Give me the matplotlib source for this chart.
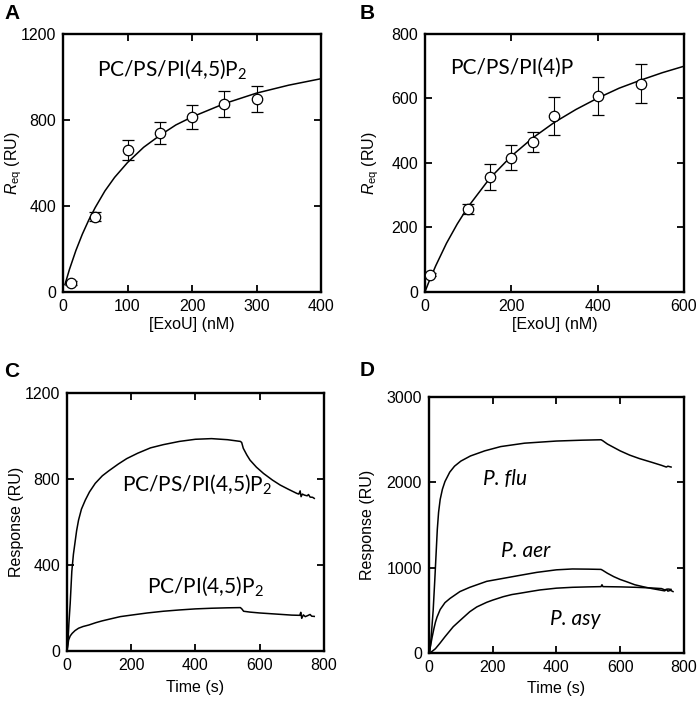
"""
plot.py - ExoU binding to lipid membranes (SPR).

A/B: equilibrium response vs ExoU concentration with hyperbolic fit.
C/D: raw sensorgrams for different lipid mixes / ExoU homologues.

Values read off the published figure by eye.
"""

import matplotlib
matplotlib.use('Agg')

import matplotlib.pyplot as plt

plt.rcParams['font.family'] = ['Liberation Sans', 'DejaVu Sans']
plt.rcParams['mathtext.fontset'] = 'custom'
plt.rcParams['mathtext.rm'] = 'Liberation Sans'
plt.rcParams['mathtext.it'] = 'Liberation Sans:italic'

NOTE_FONT = ['Lato', 'DejaVu Sans']

# ================================================================
# Panel A : PC/PS/PI(4,5)P2
# ================================================================
a_conc = [12, 50, 100, 150, 200, 250, 300]
a_req = [42, 350, 659, 740, 814, 873, 898]
a_err = [8, 22, 46, 50, 57, 61, 62]

a_fit_x = [3, 10, 20, 30, 40, 50, 65, 80, 100, 125, 150, 175, 200,
           250, 300, 350, 400]
a_fit_y = [34, 105, 193, 269, 335, 393, 470, 533, 602, 673, 728, 777,
           814, 876, 925, 962, 992]

# ================================================================
# Panel B : PC/PS/PI(4)P
# ================================================================
b_conc = [12, 100, 150, 200, 250, 300, 400, 500]
b_req = [54, 258, 357, 417, 465, 545, 608, 646]
b_err = [5, 16, 40, 40, 31, 59, 59, 60]

b_fit_x = [0, 10, 25, 50, 75, 100, 150, 200, 250, 300, 350, 400, 450,
           500, 550, 600]
b_fit_y = [0, 34, 81, 151, 211, 264, 352, 421, 478, 526, 566, 601, 632,
           657, 680, 700]

# ================================================================
# Panel C : sensorgrams, two lipid mixes
# ================================================================
c_pips_t = [0, 3, 6, 10, 15, 20, 25, 30, 36, 45, 57, 70, 88, 110, 130,
            160, 186, 220, 260, 300, 350, 400, 450, 500, 540, 544, 549,
            560, 570, 590, 612, 640, 664, 690, 716, 722, 726, 729, 733,
            740, 748, 752, 757, 765, 770]
c_pips_r = [0, 40, 130, 222, 370, 450, 505, 560, 609, 660, 702, 740, 780,
            815, 838, 870, 895, 920, 945, 960, 975, 985, 988, 983, 975,
            970, 943, 912, 888, 855, 826, 795, 772, 752, 733, 730, 745,
            718, 730, 725, 722, 728, 716, 715, 710]

c_pip_t = [0, 3, 5, 10, 16, 25, 36, 50, 68, 90, 109, 140, 166, 200, 250,
           300, 350, 400, 450, 500, 540, 545, 550, 570, 600, 650, 700,
           725, 728, 731, 736, 742, 750, 757, 762, 770]
c_pip_r = [0, 30, 51, 70, 82, 95, 106, 114, 121, 132, 140, 151, 160, 167,
           177, 185, 191, 196, 199, 201, 202, 195, 185, 181, 177, 172, 167,
           166, 180, 152, 168, 160, 165, 170, 162, 161]

# ================================================================
# Panel D : sensorgrams, three Pseudomonas homologues
# ================================================================
d_flu_t = [0, 3, 8, 13, 18, 22, 26, 30, 35, 42, 50, 65, 80, 100, 130,
           175, 225, 300, 400, 480, 540, 545, 560, 580, 600, 630, 660,
           700, 730, 745, 750, 760]
d_flu_r = [0, 30, 250, 500, 850, 1150, 1450, 1650, 1800, 1920, 2010,
           2120, 2190, 2250, 2310, 2370, 2420, 2460, 2485, 2495, 2500,
           2490, 2450, 2410, 2370, 2320, 2280, 2235, 2200, 2180, 2190, 2180]

d_aer_t = [0, 5, 10, 15, 20, 25, 35, 50, 66, 97, 128, 181, 233, 285, 338,
           400, 450, 500, 540, 545, 560, 580, 600, 620, 646, 672, 700,
           724, 740, 745, 750, 758, 766]
d_aer_r = [0, 90, 190, 280, 360, 420, 510, 590, 640, 720, 770, 840, 875,
           910, 945, 975, 985, 983, 980, 970, 935, 895, 862, 836, 800, 777,
           755, 739, 728, 745, 725, 735, 720]

d_asy_t = [0, 10, 20, 34, 50, 76, 100, 128, 150, 181, 200, 233, 260, 285,
           320, 348, 400, 450, 500, 540, 543, 546, 600, 650, 700, 730, 740,
           750, 760]
d_asy_r = [0, 20, 50, 113, 190, 308, 390, 484, 540, 594, 620, 660, 685,
           700, 722, 739, 760, 770, 775, 778, 800, 778, 775, 770, 762, 755,
           740, 750, 745]


def style_axes(ax, xlim, ylim, xticks, yticks):
    ax.set_xlim(*xlim)
    ax.set_ylim(*ylim)
    ax.set_xticks(xticks)
    ax.set_yticks(yticks)
    ax.tick_params(direction='in', top=True, right=True, length=5,
                   width=1.3, labelsize=11.5, pad=5)
    for sp in ax.spines.values():
        sp.set_linewidth(1.7)


def place_labels(ax, xlabel, ylabel, ylab_x, xlab_y):
    # label coords give the centre of each label
    ax.set_xlabel(xlabel, fontsize=11.5)
    ax.set_ylabel(ylabel, fontsize=11.5)
    ax.xaxis.label.set_verticalalignment('center')
    ax.yaxis.label.set_verticalalignment('center')
    ax.yaxis.set_label_coords(ylab_x, 0.5)
    ax.xaxis.set_label_coords(0.5, xlab_y)


def binding_panel(ax, conc, req, err, fx, fy):
    ax.plot(fx, fy, color='black', lw=1.1, zorder=2)
    ax.errorbar(conc, req, yerr=err, fmt='o', ms=7.5, mfc='white',
                mec='black', mew=0.9, ecolor='black', elinewidth=0.8,
                capsize=4, capthick=0.8, zorder=3)


def main():
    fig = plt.figure(figsize=(7, 7.01), dpi=100)

    # ---- A ----
    ax = fig.add_axes([0.090, 0.5835, 0.3686, 0.368])
    binding_panel(ax, a_conc, a_req, a_err, a_fit_x, a_fit_y)
    style_axes(ax, (0, 400), (0, 1200), [0, 100, 200, 300, 400],
               [0, 400, 800, 1200])
    place_labels(ax, '[ExoU] (nM)', r'$R_\mathregular{eq}$ (RU)',
                 -0.19, -0.125)
    ax.text(169, 1034, r'PC/PS/PI(4,5)P$_\mathregular{2}$', fontsize=15,
            family=NOTE_FONT, ha='center', va='center')

    # ---- B ----
    ax = fig.add_axes([0.607, 0.5835, 0.370, 0.368])
    binding_panel(ax, b_conc, b_req, b_err, b_fit_x, b_fit_y)
    style_axes(ax, (0, 600), (0, 800), [0, 200, 400, 600],
               [0, 200, 400, 600, 800])
    place_labels(ax, '[ExoU] (nM)', r'$R_\mathregular{eq}$ (RU)',
                 -0.21, -0.125)
    ax.text(201, 695, 'PC/PS/PI(4)P', fontsize=15, family=NOTE_FONT,
            ha='center', va='center')

    # ---- C ----
    ax = fig.add_axes([0.0957, 0.0713, 0.367, 0.368])
    ax.plot(c_pips_t, c_pips_r, color='black', lw=1.1)
    ax.plot(c_pip_t, c_pip_r, color='black', lw=1.1)
    style_axes(ax, (0, 800), (0, 1200), [0, 200, 400, 600, 800],
               [0, 400, 800, 1200])
    place_labels(ax, 'Time (s)', 'Response (RU)', -0.195, -0.14)
    ax.text(405, 775, r'PC/PS/PI(4,5)P$_\mathregular{2}$', fontsize=15,
            family=NOTE_FONT, ha='center', va='center')
    ax.text(431, 300, r'PC/PI(4,5)P$_\mathregular{2}$', fontsize=15,
            family=NOTE_FONT, ha='center', va='center')

    # ---- D ----
    ax = fig.add_axes([0.6129, 0.0685, 0.364, 0.365])
    ax.plot(d_flu_t, d_flu_r, color='black', lw=1.1)
    ax.plot(d_aer_t, d_aer_r, color='black', lw=1.1)
    ax.plot(d_asy_t, d_asy_r, color='black', lw=1.1)
    style_axes(ax, (0, 800), (0, 3000), [0, 200, 400, 600, 800],
               [0, 1000, 2000, 3000])
    place_labels(ax, 'Time (s)', 'Response (RU)', -0.24, -0.14)
    for label, tx, ry in [('P. flu', 240, 2040), ('P. aer', 302, 1190),
                          ('P. asy', 458, 400)]:
        ax.text(tx, ry, label, fontsize=15, family=NOTE_FONT,
                style='italic', ha='center', va='center')

    # panel letters
    for letter, x, y in [('A', 0.017, 0.981), ('B', 0.524, 0.981),
                         ('C', 0.017, 0.470), ('D', 0.524, 0.472)]:
        fig.text(x, y, letter, fontsize=15, fontweight='bold',
                 ha='center', va='center')

    fig.savefig('out.png', dpi=100)


if __name__ == '__main__':
    main()
